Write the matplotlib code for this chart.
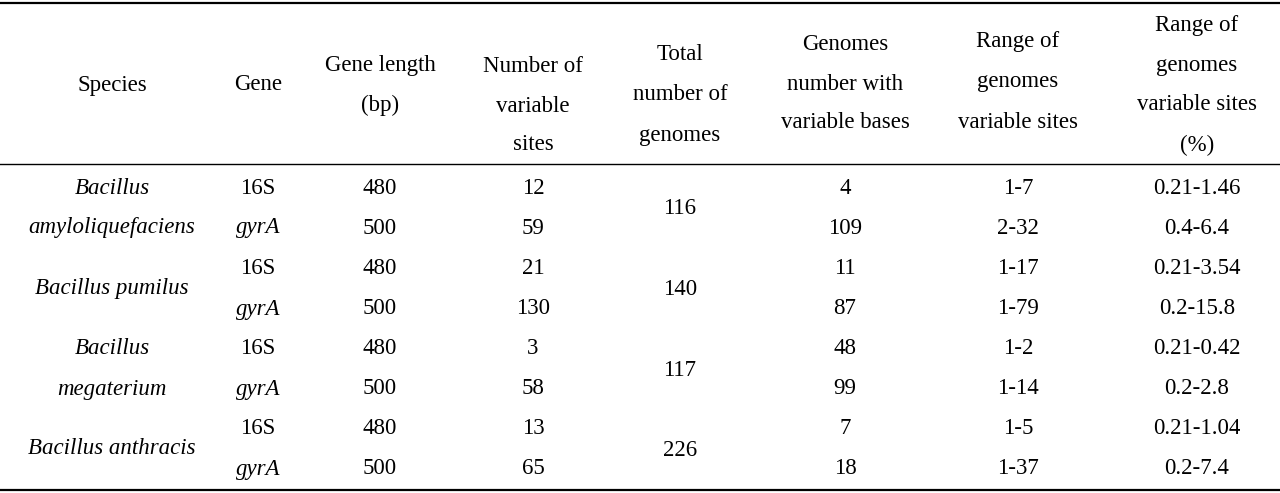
import matplotlib.pyplot as plt

# table contents
species = [["Bacillus", "amyloliquefaciens"], ["Bacillus pumilus"],
           ["Bacillus", "megaterium"], ["Bacillus anthracis"]]
genes = ["16S", "gyrA"]
gene_length = ["480", "500", "480", "500", "480", "500", "480", "500"]
n_variable = ["12", "59", "21", "130", "3", "58", "13", "65"]
total_genomes = ["116", "140", "117", "226"]
genomes_var = ["4", "109", "11", "87", "48", "99", "7", "18"]
range_sites = ["1-7", "2-32", "1-17", "1-79", "1-2", "1-14", "1-5", "1-37"]
range_pct = ["0.21-1.46", "0.4-6.4", "0.21-3.54", "0.2-15.8",
             "0.21-0.42", "0.2-2.8", "0.21-1.04", "0.2-7.4"]

col_x = [112, 258, 380, 533, 680, 845, 1018, 1197]
headers = [
    (["Species"], [85]),
    (["Gene"], [85]),
    (["Gene length", "(bp)"], [65, 105]),
    (["Number of", "variable", "sites"], [67, 107, 145]),
    (["Total", "number of", "genomes"], [55, 95, 135]),
    (["Genomes", "number with", "variable bases"], [45, 85, 122]),
    (["Range of", "genomes", "variable sites"], [42, 82, 122]),
    (["Range of", "genomes", "variable sites", "(%)"], [25, 65, 105, 145]),
]
row_y = [188, 228, 268, 309, 349, 389, 429, 469]

W, H = 1280, 493
fig = plt.figure(figsize=(W / 100, H / 100), dpi=100)
ax = fig.add_axes([0, 0, 1, 1])
ax.set_xlim(0, W)
ax.set_ylim(H, 0)
ax.axis("off")
plt.rcParams["font.family"] = ["Liberation Serif"]
fs = 16.5

ax.plot([0, W], [3, 3], color="black", lw=1.6)
ax.plot([0, W], [164, 164], color="black", lw=1.0)
ax.plot([0, W], [490, 490], color="black", lw=1.6)

def put(x, y, s, italic=False):
    ax.text(x, y, s, ha="center", va="center", fontsize=fs,
            style="italic" if italic else "normal", family="Liberation Serif")

for x, (lines, ys) in zip(col_x, headers):
    for s, y in zip(lines, ys):
        put(x, y, s)

for i, sp in enumerate(species):
    y0, y1 = row_y[2 * i], row_y[2 * i + 1]
    if len(sp) == 2:
        put(col_x[0], y0, sp[0], True)
        put(col_x[0], y1, sp[1], True)
    else:
        put(col_x[0], (y0 + y1) / 2, sp[0], True)
    put(col_x[4], (y0 + y1) / 2 + 1, total_genomes[i])

for j, y in enumerate(row_y):
    put(col_x[1], y, genes[j % 2], italic=(j % 2 == 1))
    put(col_x[2], y, gene_length[j])
    put(col_x[3], y, n_variable[j])
    put(col_x[5], y, genomes_var[j])
    put(col_x[6], y, range_sites[j])
    put(col_x[7], y, range_pct[j])

fig.savefig("out.png", dpi=100)
